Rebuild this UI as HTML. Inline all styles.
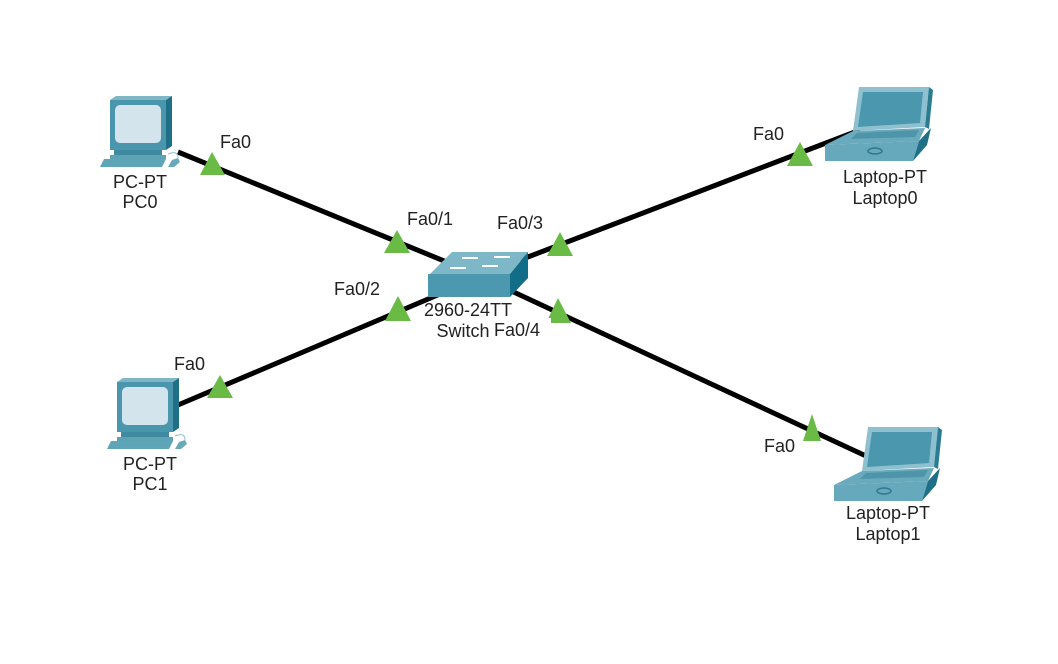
<!DOCTYPE html>
<html><head><meta charset="utf-8"><style>
html,body{margin:0;padding:0;background:#fff;}
svg{display:block;}
text{font-family:"Liberation Sans",sans-serif;font-size:18px;fill:#222;}
</style></head><body>
<svg width="1058" height="664" viewBox="0 0 1058 664" xmlns="http://www.w3.org/2000/svg">
<defs>
<g id="pc">
  <path d="M10,4 L16,0 L72,0 L66,4 Z" fill="#7fb5c5"/>
  <path d="M66,4 L72,0 L72,50 L66,54 Z" fill="#1f6f87"/>
  <rect x="10" y="4" width="56" height="50" fill="#4a97ad"/>
  <rect x="15" y="9" width="46" height="38" rx="5" fill="#d4e4ec"/>
  <rect x="14" y="54" width="48" height="5" fill="#3f8aa0"/>
  <rect x="10" y="59" width="56" height="4" fill="#5da2b5"/>
  <path d="M4,63 L66,63 L62,71 L0,71 Z" fill="#5ea5b8"/>
  <path d="M72,64 L78,62 L80,66 L74,71 L68,71 Z" fill="#6aa9bb"/>
  <path d="M68,58 q10,-4 10,4" stroke="#8fbfcf" fill="none" stroke-width="1"/>
</g>
<g id="lap">
  <path d="M34,0 L104,0 L100,40 L28,44 Z" fill="#8ec0cf"/>
  <path d="M38,5 L98,5 L95,36 L33,40 Z" fill="#4b97ad"/>
  <path d="M104,0 L108,3 L104,42 L100,40 Z" fill="#2b7c93"/>
  <path d="M28,44 L100,41 L94,54 L0,58 Z" fill="#6aaabd"/>
  <path d="M32,46 L94,43 L90,50 L26,52 Z" fill="#4e95aa"/>
  <path d="M0,58 L94,54 L88,74 L0,74 Z" fill="#66a9bc"/>
  <path d="M94,54 L106,41 L102,58 L88,74 Z" fill="#1f6f87"/>
  <ellipse cx="50" cy="64" rx="7" ry="3" fill="none" stroke="#2f7890" stroke-width="1.5"/>
</g>
</defs>

<g stroke="#000" stroke-width="5" stroke-linecap="butt">
  <line x1="178" y1="152" x2="515" y2="290"/>
  <line x1="860" y1="130" x2="520" y2="260"/>
  <line x1="178" y1="405" x2="440" y2="294"/>
  <line x1="505" y1="288" x2="866" y2="456"/>
</g>

<!-- switch -->
<path d="M430,274 L452,252 L528,252 L510,274 Z" fill="#7eb8c8"/>
<path d="M510,274 L528,252 L528,278 L510,297 Z" fill="#126e88"/>
<rect x="428" y="274" width="82" height="23" fill="#4c98ae"/>
<g stroke="#fff" stroke-width="2" fill="none">
  <line x1="462" y1="258" x2="478" y2="258"/><line x1="494" y1="257" x2="510" y2="257"/>
  <line x1="450" y1="268" x2="466" y2="268"/><line x1="482" y1="266" x2="498" y2="266"/>
</g>

<!-- devices -->
<use href="#pc" x="100" y="96"/>
<use href="#pc" x="107" y="378"/>
<use href="#lap" x="825" y="87"/>
<use href="#lap" x="834" y="427"/>

<!-- triangles -->
<g fill="#6abb45">
  <polygon points="212,152 200,175 225,175"/>
  <polygon points="397,230 384,253 410,253"/>
  <polygon points="560,232 547,256 573,256"/>
  <polygon points="800,142 787,166 813,166"/>
  <polygon points="398,296 385,321 411,321"/>
  <polygon points="220,375 207,398 233,398"/>
  <polygon points="558,298 546,323 571,323"/>
  <polygon points="812,414 803,441 821,441"/>
</g>

<!-- labels -->
<g text-anchor="middle">
  <text x="140" y="188">PC-PT</text><text x="140" y="208">PC0</text>
  <text x="150" y="470">PC-PT</text><text x="150" y="490">PC1</text>
  <text x="885" y="183">Laptop-PT</text><text x="885" y="204">Laptop0</text>
  <text x="888" y="519">Laptop-PT</text><text x="888" y="540">Laptop1</text>
  <text x="468" y="316">2960-24TT</text><text x="468" y="337">Switch0</text>
</g>
<rect x="489" y="318" width="62" height="22" fill="#fff"/>
<text x="494" y="336">Fa0/4</text>
<text x="220" y="148">Fa0</text>
<text x="407" y="225">Fa0/1</text>
<text x="497" y="229">Fa0/3</text>
<text x="334" y="295">Fa0/2</text>
<text x="174" y="370">Fa0</text>
<text x="753" y="140">Fa0</text>
<text x="764" y="452">Fa0</text>
</svg>
</body></html>
